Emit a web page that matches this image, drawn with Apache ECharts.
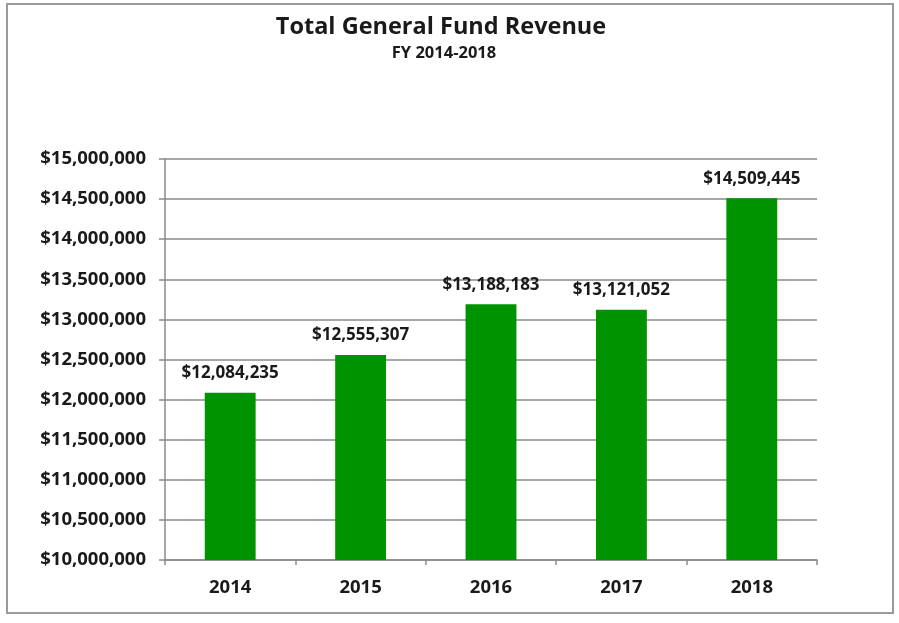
<!DOCTYPE html>
<html>
<head>
<meta charset="utf-8">
<script src="https://cdn.jsdelivr.net/npm/echarts@6/dist/echarts.min.js"></script>
<style>
  html, body { margin: 0; padding: 0; background: #fff; }
  #chart { width: 899px; height: 623px; }
</style>
</head>
<body>
<div id="chart"></div>
<script>
// Fiscal years and total general fund revenue per year (USD)
const years = ['2014', '2015', '2016', '2017', '2018'];
const revenue = [12084235, 12555307, 13188183, 13121052, 14509445];

// Value axis range and step
const axisMin = 10000000;
const axisMax = 15000000;
const axisStep = 500000;

const FONT = '"Open Sans", "Liberation Sans", sans-serif';
const money = v => '$' + Math.round(v).toLocaleString('en-US');

const chart = echarts.init(document.getElementById('chart'), null, { renderer: 'canvas' });

chart.setOption({
  backgroundColor: '#ffffff',
  animation: false,
  graphic: [{
    type: 'rect',
    shape: { x: 7, y: 4, width: 886, height: 609 },
    style: { fill: 'none', stroke: '#9a9a9a', lineWidth: 2 },
    silent: true
  }],
  title: [{
    text: 'Total General Fund Revenue',
    left: 436, top: 10, textAlign: 'center',
    textStyle: { fontFamily: FONT, fontWeight: 'bold', fontSize: 23.5, color: '#1a1a1a' }
  }, {
    text: 'FY 2014-2018',
    left: 439, top: 40, textAlign: 'center',
    textStyle: { fontFamily: FONT, fontWeight: 'bold', fontSize: 16.5, color: '#1a1a1a' }
  }],
  grid: { left: 165, right: 82, top: 159, bottom: 63, containLabel: false },
  xAxis: {
    type: 'category',
    data: years,
    axisLine: { show: true, lineStyle: { color: '#8a8a8a', width: 1.5 } },
    axisTick: { show: true, alignWithLabel: false, length: 5, lineStyle: { color: '#8a8a8a', width: 1.5 } },
    axisLabel: { margin: 18, fontFamily: FONT, fontWeight: 'bold', fontSize: 18.5, color: '#1a1a1a' }
  },
  yAxis: {
    type: 'value',
    min: axisMin, max: axisMax, interval: axisStep,
    axisLine: { show: true, lineStyle: { color: '#8a8a8a', width: 1.5 } },
    axisTick: { show: true, inside: false, length: 6, lineStyle: { color: '#8a8a8a', width: 1.5 } },
    splitLine: { show: true, lineStyle: { color: '#8a8a8a', width: 1.5 } },
    axisLabel: {
      margin: 19, fontFamily: FONT, fontWeight: 'bold', fontSize: 18.5, color: '#1a1a1a',
      formatter: v => money(v)
    }
  },
  series: [{
    type: 'bar',
    data: revenue,
    barWidth: '39%',
    itemStyle: { color: '#009300' },
    label: {
      show: true, position: 'top', distance: 11,
      fontFamily: FONT, fontWeight: 'bold', fontSize: 17, color: '#1a1a1a',
      formatter: p => money(p.value)
    }
  }]
});
</script>
</body>
</html>
